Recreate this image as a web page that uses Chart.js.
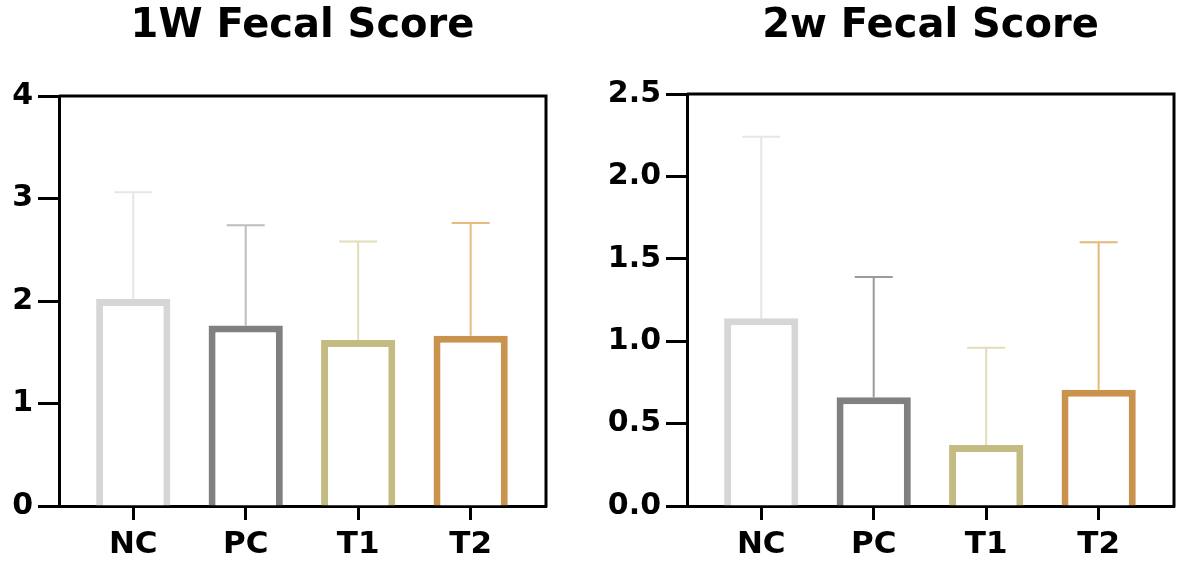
<!DOCTYPE html>
<html>
<head>
<meta charset="utf-8">
<script src="https://cdn.jsdelivr.net/npm/chart.js@4.4.1/dist/chart.umd.min.js"></script>
<style>
  html, body { margin: 0; padding: 0; background: #ffffff; }
  #wrap { position: relative; width: 1178px; height: 565px; overflow: hidden; background: #fff; }
  canvas { position: absolute; top: 0; }
  #c1 { left: 0; }
  #c2 { left: 589px; }
</style>
</head>
<body>
<div id="wrap">
  <canvas id="c1" width="589" height="565"></canvas>
  <canvas id="c2" width="589" height="565"></canvas>
</div>
<script>
// ---- data ----
const categories = ['NC', 'PC', 'T1', 'T2'];
const titles = ['1W Fecal Score', '2w Fecal Score'];

const week1Means = [2.02, 1.76, 1.62, 1.66];
const week1SD    = [1.04, 0.98, 0.96, 1.10];

const week2Means = [1.14, 0.66, 0.37, 0.705];
const week2SD    = [1.10, 0.73, 0.59, 0.895];

const week1YTicks = [0, 1, 2, 3, 4];
const week2YTicks = [0, 0.5, 1.0, 1.5, 2.0, 2.5];

// ---- styles ----
const barColors = ['#d6d6d6', '#808080', '#c4bb82', '#c9934d'];
const errColors1 = ['#e6e6e6', '#bdbdbd', '#e3dcb8', '#e6bb80'];
const errColors2 = ['#e6e6e6', '#9a9a9a', '#e3dcb8', '#e6b877'];
const FONT = "'DejaVu Sans', sans-serif";

const errorBarPlugin = {
  id: 'errorBars',
  beforeDatasetsDraw(chart, args, opts) {
    const ctx = chart.ctx;
    const xs = chart.scales.x, ys = chart.scales.y;
    ctx.save();
    opts.means.forEach((m, i) => {
      const x = xs.getPixelForValue(i);
      const y0 = ys.getPixelForValue(m);
      const y1 = ys.getPixelForValue(m + opts.sds[i]);
      ctx.strokeStyle = opts.colors[i];
      ctx.lineWidth = 2;
      ctx.beginPath();
      ctx.moveTo(x, y0);
      ctx.lineTo(x, y1);
      ctx.moveTo(x - 19, y1);
      ctx.lineTo(x + 19, y1);
      ctx.stroke();
    });
    ctx.restore();
  }
};

const framePlugin = {
  id: 'frame',
  afterDraw(chart) {
    const a = chart.chartArea, ctx = chart.ctx;
    ctx.save();
    ctx.strokeStyle = '#000';
    ctx.lineWidth = 3;
    ctx.beginPath();
    ctx.moveTo(a.left, a.top);
    ctx.lineTo(a.right, a.top);
    ctx.lineTo(a.right, a.bottom + 1.5);
    ctx.stroke();
    ctx.restore();
  }
};

function makeChart(id, title, means, sds, yTicks, decimals, yAxisWidth, rightPad, titleBottom, errColors) {
  const yMax = yTicks[yTicks.length - 1];
  const step = yTicks[1] - yTicks[0];
  return new Chart(document.getElementById(id), {
    type: 'bar',
    data: {
      datasets: [{
        data: means.map((v, i) => ({ x: i, y: v })),
        backgroundColor: '#ffffff',
        borderColor: barColors,
        borderWidth: 7,
        borderSkipped: 'start',
        categoryPercentage: 1,
        barPercentage: 0.66
      }]
    },
    options: {
      responsive: false,
      devicePixelRatio: 1,
      animation: false,
      layout: { padding: { left: 0, right: rightPad, top: 0, bottom: 0 } },
      plugins: {
        legend: { display: false },
        tooltip: { enabled: false },
        title: {
          display: true,
          text: title,
          fullSize: false,
          color: '#000',
          font: { family: FONT, size: 40, weight: 'bold' },
          padding: { top: 3, bottom: titleBottom }
        },
        errorBars: { means: means, sds: sds, colors: errColors }
      },
      scales: {
        x: {
          type: 'linear',
          offset: false,
          min: -0.66,
          max: categories.length - 1 + 0.67,
          afterBuildTicks(scale) { scale.ticks = categories.map((c, i) => ({ value: i })); },
          afterFit(scale) { scale.height = 59; },
          grid: { display: true, offset: false, drawOnChartArea: false, drawTicks: true, tickLength: 14, tickWidth: 3, tickColor: '#000' },
          border: { display: true, width: 3, color: '#000' },
          ticks: {
            color: '#000',
            padding: 6,
            font: { family: FONT, size: 31, weight: 'bold' },
            callback: (v) => categories[v] !== undefined ? categories[v] : '',
            maxRotation: 0,
            autoSkip: false
          }
        },
        y: {
          min: 0,
          max: yMax,
          afterBuildTicks(scale) { scale.ticks = yTicks.map(v => ({ value: v })); },
          afterFit(scale) { scale.width = yAxisWidth; },
          grid: { display: true, drawOnChartArea: false, drawTicks: true, tickLength: 21, tickWidth: 3, tickColor: '#000' },
          border: { display: true, width: 3, color: '#000' },
          ticks: {
            color: '#000',
            padding: 5,
            stepSize: step,
            font: { family: FONT, size: 30, weight: 'bold' },
            callback: (v) => Number(v).toFixed(decimals)
          }
        }
      }
    },
    plugins: [errorBarPlugin, framePlugin]
  });
}

makeChart('c1', titles[0], week1Means, week1SD, week1YTicks, 0, 59, 43, 45, errColors1);
makeChart('c2', titles[1], week2Means, week2SD, week2YTicks, 1, 98, 4, 43, errColors2);
</script>
</body>
</html>
